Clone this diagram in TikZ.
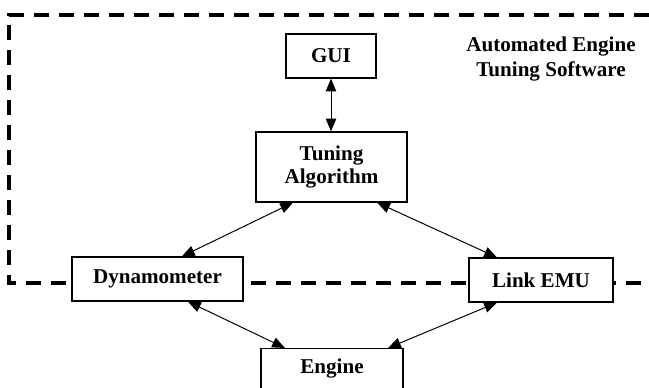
\documentclass[tikz,border=0pt]{standalone}
\usepackage{fontspec}
\setmainfont{Liberation Serif}
\usetikzlibrary{arrows.meta, calc}
\tikzset{
  block/.style={
    draw=black,
    fill=white,
    line width=0.8pt,
    font=\fontsize{15}{17}\selectfont\bfseries,
    align=center,
    inner sep=0pt
  },
  link/.style={
    {Triangle[length=0.32cm, width=0.26cm]}-{Triangle[length=0.32cm, width=0.26cm]},
    line width=0.7pt
  },
  boundary/.style={
    line width=2.5pt,
    dash pattern=on 0.375cm off 0.25cm
  }
}
\begin{document}
\begin{tikzpicture}[x=0.025cm, y=-0.025cm]
    \useasboundingbox (0,0) rectangle (649,387);
    \clip (0,0) rectangle (649,387);

    % software boundary (open on the right)
    \draw[boundary] (649,15) -- (9,15) -- (9,283) -- (649,283);
    \node[font=\fontsize{15}{18}\selectfont\bfseries, align=center] (title) at (551,59) {Automated Engine\\Tuning Software};

    % blocks
    \node[block, minimum width=2.25cm, minimum height=1.1cm] (gui) at (331,56) {GUI};
    \node[block, minimum width=3.775cm, minimum height=1.75cm] (tune) at (331.5,167) {Tuning\\Algorithm};
    \node[block, minimum width=4.275cm, minimum height=1.1cm] (dyno) at (157.5,279) {Dynamometer};
    \node[block, minimum width=3.6cm, minimum height=1.1cm] (emu) at (541,280) {Link EMU};
    \node[block, minimum width=3.55cm, minimum height=1.4cm, anchor=north] (engine) at (332,348) {};
    \node[font=\fontsize{15}{17}\selectfont\bfseries] (enginetext) at (332,369) {Engine};

    % connections
    \draw[link] (gui.south) -- (gui.south |- tune.north);
    \draw[link] ([xshift=-0.96cm]tune.south) -- ([xshift=0.61cm]dyno.north);
    \draw[link] ([xshift=1.14cm]tune.south) -- ([xshift=-1.1cm]emu.north);
    \draw[link] ([xshift=0.76cm]dyno.south) -- ([xshift=-1.175cm]engine.north);
    \draw[link] ([xshift=-1.1cm]emu.south) -- ([xshift=1.4cm]engine.north);
\end{tikzpicture}
\end{document}
